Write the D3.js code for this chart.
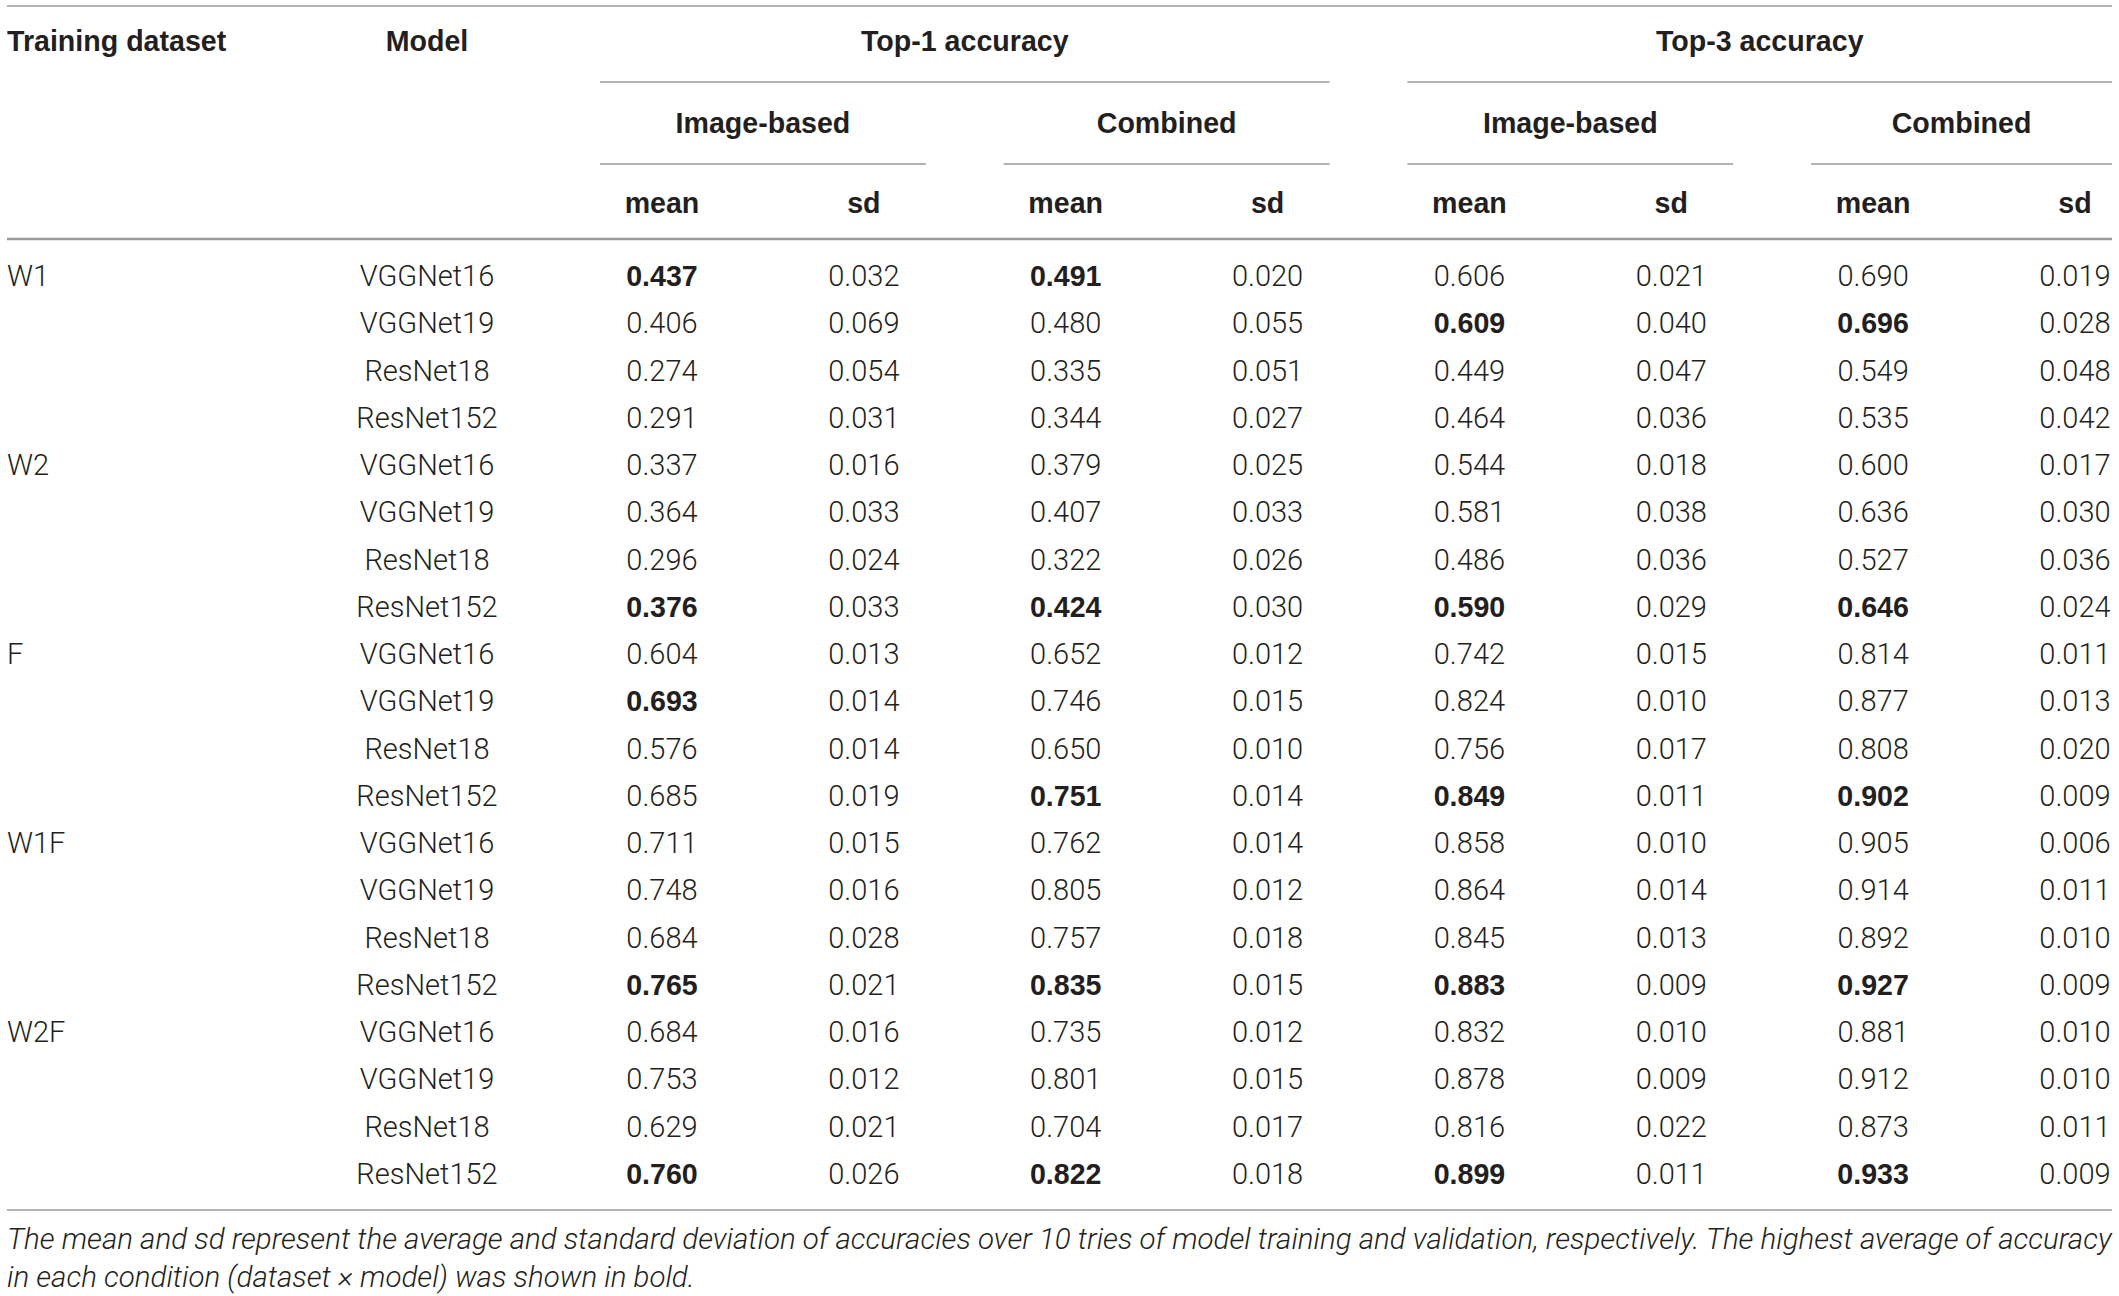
<!DOCTYPE html>
<html>
<head>
<meta charset="utf-8">
<title>Accuracy table</title>
<script src="https://cdn.jsdelivr.net/npm/d3@7.9.0/dist/d3.min.js"></script>
<style>
  body { margin: 0; background: #fff; }
  svg { display: block; }
  .light { font-family: Roboto, "Liberation Sans", Arial, sans-serif; font-weight: 300; font-size: 29px; }
  .bold { font-family: "Liberation Sans", Arial, sans-serif; font-weight: 700; font-size: 28.6px; }
</style>
</head>
<body>
<svg id="table"></svg>
<script>
// table content
const datasets = ['W1', 'W2', 'F', 'W1F', 'W2F'];
const models = ['VGGNet16', 'VGGNet19', 'ResNet18', 'ResNet152'];
const groups = ['Top-1 accuracy', 'Top-3 accuracy'];
const subgroups = ['Image-based', 'Combined', 'Image-based', 'Combined'];
const stats = ['mean', 'sd', 'mean', 'sd', 'mean', 'sd', 'mean', 'sd'];

// one value per dataset x model row, in table order
const top1ImageMean = [0.437, 0.406, 0.274, 0.291, 0.337, 0.364, 0.296, 0.376, 0.604, 0.693,
  0.576, 0.685, 0.711, 0.748, 0.684, 0.765, 0.684, 0.753, 0.629, 0.760];
const top1ImageSd = [0.032, 0.069, 0.054, 0.031, 0.016, 0.033, 0.024, 0.033, 0.013, 0.014,
  0.014, 0.019, 0.015, 0.016, 0.028, 0.021, 0.016, 0.012, 0.021, 0.026];
const top1CombinedMean = [0.491, 0.480, 0.335, 0.344, 0.379, 0.407, 0.322, 0.424, 0.652, 0.746,
  0.650, 0.751, 0.762, 0.805, 0.757, 0.835, 0.735, 0.801, 0.704, 0.822];
const top1CombinedSd = [0.020, 0.055, 0.051, 0.027, 0.025, 0.033, 0.026, 0.030, 0.012, 0.015,
  0.010, 0.014, 0.014, 0.012, 0.018, 0.015, 0.012, 0.015, 0.017, 0.018];
const top3ImageMean = [0.606, 0.609, 0.449, 0.464, 0.544, 0.581, 0.486, 0.590, 0.742, 0.824,
  0.756, 0.849, 0.858, 0.864, 0.845, 0.883, 0.832, 0.878, 0.816, 0.899];
const top3ImageSd = [0.021, 0.040, 0.047, 0.036, 0.018, 0.038, 0.036, 0.029, 0.015, 0.010,
  0.017, 0.011, 0.010, 0.014, 0.013, 0.009, 0.010, 0.009, 0.022, 0.011];
const top3CombinedMean = [0.690, 0.696, 0.549, 0.535, 0.600, 0.636, 0.527, 0.646, 0.814, 0.877,
  0.808, 0.902, 0.905, 0.914, 0.892, 0.927, 0.881, 0.912, 0.873, 0.933];
const top3CombinedSd = [0.019, 0.028, 0.048, 0.042, 0.017, 0.030, 0.036, 0.024, 0.011, 0.013,
  0.020, 0.009, 0.006, 0.011, 0.010, 0.009, 0.010, 0.010, 0.011, 0.009];

const footnote = [
  'The mean and sd represent the average and standard deviation of accuracies over 10 tries of model training and validation, respectively. The highest average of accuracy',
  'in each condition (dataset \u00d7 model) was shown in bold.'
];

const columns = [top1ImageMean, top1ImageSd, top1CombinedMean, top1CombinedSd,
  top3ImageMean, top3ImageSd, top3CombinedMean, top3CombinedSd];

const width = 2119;
const height = 1296;
const left = 7;
const right = 2112;
const ink = '#231f20';
const rule = '#9b9b9b';
const fmt = d3.format('.3f');

const svg = d3.select('#table')
  .attr('width', width)
  .attr('height', height)
  .attr('viewBox', `0 0 ${width} ${height}`);

// column centres and row baselines
let x = d3.scaleLinear().domain([0, columns.length - 1]).range([662, 2075]);
let y = d3.scaleLinear().domain([0, datasets.length * models.length - 1]).range([286, 1183.75]);
const half = 62;
const modelX = 427;

let rows = datasets.flatMap((d, i) => models.map((m, j) => ({
  dataset: j === 0 ? d : '',
  model: m,
  index: i * models.length + j,
  block: i
})));

// a mean is bold when it is the highest of the four models in its dataset
function isBold(col, r) {
  if (col % 2 === 1) return false;
  let values = columns[col].slice(r.block * models.length, (r.block + 1) * models.length);
  return columns[col][r.index] === d3.max(values);
}

function hline(x1, x2, yy, w) {
  svg.append('line')
    .attr('x1', x1).attr('x2', x2)
    .attr('y1', yy).attr('y2', yy)
    .attr('stroke', rule)
    .attr('stroke-width', w);
}

// rules
hline(left, right, 6, 1.6);
hline(left, right, 239, 2.4);
hline(left, right, 1210, 1.6);

groups.forEach((g, gi) => {
  let x1 = x(gi * 4) - half;
  let x2 = Math.min(x(gi * 4 + 3) + half, right);
  hline(x1, x2, 82, 1.6);
  svg.append('text')
    .attr('class', 'bold')
    .attr('x', (x1 + x2) / 2).attr('y', 51)
    .attr('text-anchor', 'middle')
    .attr('fill', ink)
    .text(g);
});

subgroups.forEach((s, si) => {
  let x1 = x(si * 2) - half;
  let x2 = Math.min(x(si * 2 + 1) + half, right);
  hline(x1, x2, 164, 1.6);
  svg.append('text')
    .attr('class', 'bold')
    .attr('x', (x1 + x2) / 2).attr('y', 133)
    .attr('text-anchor', 'middle')
    .attr('fill', ink)
    .text(s);
});

svg.selectAll('text.stat')
  .data(stats)
  .enter()
  .append('text')
  .attr('class', 'bold stat')
  .attr('x', (d, i) => x(i)).attr('y', 213)
  .attr('text-anchor', 'middle')
  .attr('fill', ink)
  .text(d => d);

svg.append('text')
  .attr('class', 'bold')
  .attr('x', left).attr('y', 51)
  .attr('fill', ink)
  .text('Training dataset');

svg.append('text')
  .attr('class', 'bold')
  .attr('x', modelX).attr('y', 51)
  .attr('text-anchor', 'middle')
  .attr('fill', ink)
  .text('Model');

// body rows
let body = svg.selectAll('g.row')
  .data(rows)
  .enter()
  .append('g')
  .attr('class', 'row')
  .attr('transform', d => `translate(0,${y(d.index)})`);

body.append('text')
  .attr('class', 'light')
  .attr('x', left)
  .attr('fill', ink)
  .text(d => d.dataset);

body.append('text')
  .attr('class', 'light')
  .attr('x', modelX)
  .attr('text-anchor', 'middle')
  .attr('fill', ink)
  .text(d => d.model);

body.each(function(r) {
  d3.select(this).selectAll('text.cell')
    .data(columns.map((c, ci) => ({ value: c[r.index], bold: isBold(ci, r), col: ci })))
    .enter()
    .append('text')
    .attr('class', d => (d.bold ? 'bold cell' : 'light cell'))
    .attr('x', d => x(d.col))
    .attr('text-anchor', 'middle')
    .attr('fill', ink)
    .text(d => fmt(d.value));
});

// footnote, sized so the first line fills the table width
let notes = svg.selectAll('text.note')
  .data(footnote)
  .enter()
  .append('text')
  .attr('class', 'light note')
  .attr('x', left)
  .attr('y', (d, i) => 1249 + i * 38)
  .style('font-size', '26px')
  .attr('font-style', 'italic')
  .attr('fill', ink)
  .text(d => d);

let firstLen = notes.node().getComputedTextLength();
notes.style('font-size', `${26 * (right - left) / firstLen}px`);
</script>
</body>
</html>
